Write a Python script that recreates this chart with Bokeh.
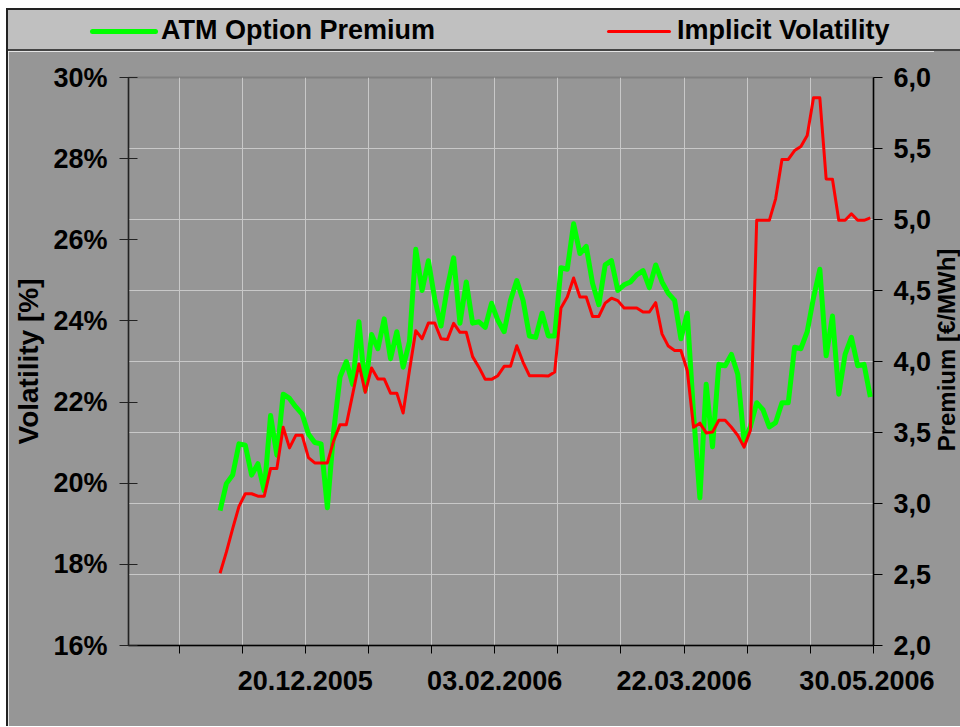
from bokeh.plotting import figure
from bokeh.models import Range1d, LinearAxis, FixedTicker, Grid, Div
from bokeh.layouts import column, row
from bokeh.embed import file_html
from bokeh.resources import INLINE

# ---- data ----
first_idx = 14            # first category that holds data
n_categories = 118        # categories on the x axis

vol = [17.78, 18.30, 18.88, 19.43, 19.74, 19.74, 19.68, 19.68, 20.36, 20.36,
       21.38, 20.87, 21.18, 21.18, 20.63, 20.50, 20.50, 20.50, 21.05, 21.44,
       21.44, 22.19, 22.94, 22.24, 22.84, 22.57, 22.57, 22.22, 22.22, 21.73,
       22.78, 23.76, 23.56, 23.95, 23.95, 23.56, 23.54, 23.94, 23.72, 23.72,
       23.12, 22.86, 22.56, 22.56, 22.65, 22.88, 22.88, 23.39, 22.98, 22.65,
       22.65, 22.65, 22.64, 22.74, 24.32, 24.59, 25.06, 24.59, 24.59, 24.11,
       24.11, 24.44, 24.56, 24.50, 24.32, 24.32, 24.32, 24.22, 24.22, 24.45,
       23.68, 23.38, 23.27, 23.27, 22.78, 21.38, 21.48, 21.24, 21.26, 21.55,
       21.55, 21.38, 21.18, 20.89, 21.30, 26.48, 26.48, 26.48, 27.01, 27.98,
       27.98, 28.20, 28.30, 28.57, 29.50, 29.50, 27.50, 27.49, 26.48, 26.48,
       26.64, 26.48, 26.48, 26.54]

premium = [2.95, 3.14, 3.20, 3.42, 3.41, 3.20, 3.28, 3.09, 3.62, 3.34,
           3.77, 3.74, 3.68, 3.63, 3.49, 3.43, 3.42, 2.97, 3.51, 3.89,
           4.00, 3.84, 4.28, 3.80, 4.19, 4.09, 4.30, 4.02, 4.21, 3.96,
           4.14, 4.79, 4.50, 4.71, 4.44, 4.25, 4.52, 4.73, 4.27, 4.56,
           4.27, 4.28, 4.24, 4.41, 4.29, 4.21, 4.43, 4.57, 4.43, 4.18,
           4.17, 4.34, 4.18, 4.18, 4.66, 4.65, 4.97, 4.76, 4.81, 4.55,
           4.40, 4.68, 4.71, 4.50, 4.54, 4.56, 4.61, 4.64, 4.52, 4.68,
           4.56, 4.48, 4.43, 4.16, 4.34, 3.63, 3.04, 3.84, 3.40, 3.98,
           3.97, 4.05, 3.91, 3.44, 3.54, 3.71, 3.66, 3.54, 3.57, 3.71,
           3.71, 4.10, 4.09, 4.21, 4.45, 4.65, 4.04, 4.32, 3.77, 4.05,
           4.17, 3.97, 3.98, 3.75]

x_ticks = [8, 18, 28, 38, 48, 58, 68, 78, 88, 98, 108, 118]
x_label_pos = [28, 58, 88, 118]
x_labels = ["20.12.2005", "03.02.2006", "22.03.2006", "30.05.2006"]

left_ticks = [16, 18, 20, 22, 24, 26, 28, 30]
left_labels = ["16%", "18%", "20%", "22%", "24%", "26%", "28%", "30%"]
right_ticks = [2.0, 2.5, 3.0, 3.5, 4.0, 4.5, 5.0, 5.5, 6.0]
right_labels = ["2,0", "2,5", "3,0", "3,5", "4,0", "4,5", "5,0", "5,5", "6,0"]

series_names = ["ATM Option Premium", "Implicit Volatility"]
left_title = "Volatility [%]"
right_title = "Premium [€/MWh]"

# ---- derived ----
xs = [i + 0.5 for i in range(first_idx, first_idx + len(vol))]

FONT = "Liberation Sans"
BG = "#969696"
BAND = "#c0c0c0"
GREEN = "#00ff00"
RED = "#ff0000"

W_ALL = 952
W_TITLE = 26
W = W_ALL - W_TITLE
H = 675

# ---- main chart ----
p = figure(width=W, height=H, x_range=Range1d(0, n_categories), y_range=Range1d(16, 30),
           output_backend="svg", toolbar_location=None,
           min_border_left=120, min_border_right=W - 867, min_border_top=26, min_border_bottom=81,
           background_fill_color=BG, border_fill_color=BG,
           outline_line_color="#808080", outline_line_width=2)
p.extra_y_ranges = {"prem": Range1d(2, 6)}

# x axis
xa = p.xaxis[0]
xa.ticker = FixedTicker(ticks=x_ticks)
ov = {t: "" for t in x_ticks}
for t, lab in zip(x_label_pos, x_labels):
    ov[t] = lab
xa.major_label_overrides = ov
xa.major_tick_in = 0
xa.major_tick_out = 8
xa.minor_tick_line_color = None
xa.axis_line_color = "black"
xa.axis_line_width = 1.5
xa.major_tick_line_color = "black"
xa.major_label_standoff = 17
xa.major_label_text_font = FONT
xa.major_label_text_font_style = "bold"
xa.major_label_text_font_size = "27px"
xa.major_label_text_color = "black"

# left axis
ya = p.yaxis[0]
ya.ticker = FixedTicker(ticks=left_ticks)
ya.major_label_overrides = {t: l for t, l in zip(left_ticks, left_labels)}
ya.major_tick_in = 9
ya.major_tick_out = 9
ya.minor_tick_line_color = None
ya.axis_line_color = "#222222"
ya.axis_line_width = 1.5
ya.major_tick_line_color = "#222222"
ya.major_label_standoff = 12
ya.major_label_text_font = FONT
ya.major_label_text_font_style = "bold"
ya.major_label_text_font_size = "27px"
ya.major_label_text_color = "black"
ya.axis_label = left_title
ya.axis_label_standoff = 6
ya.axis_label_text_font = FONT
ya.axis_label_text_font_style = "bold"
ya.axis_label_text_font_size = "28px"
ya.axis_label_text_color = "black"

# right axis
ra = LinearAxis(y_range_name="prem", ticker=FixedTicker(ticks=right_ticks))
ra.major_label_overrides = {t: l for t, l in zip(right_ticks, right_labels)}
ra.major_tick_in = 0
ra.major_tick_out = 9
ra.minor_tick_line_color = None
ra.axis_line_color = "black"
ra.axis_line_width = 1.5
ra.major_tick_line_color = "black"
ra.major_label_standoff = 11
ra.major_label_text_font = FONT
ra.major_label_text_font_style = "bold"
ra.major_label_text_font_size = "27px"
ra.major_label_text_color = "black"
p.add_layout(ra, "right")

# grids
p.xgrid.ticker = FixedTicker(ticks=x_ticks)
p.xgrid.grid_line_color = "#c8c8c8"
p.xgrid.grid_line_width = 1
p.ygrid.visible = False
p.add_layout(Grid(dimension=1, ticker=FixedTicker(ticks=right_ticks), y_range_name="prem",
                  grid_line_color="#c8c8c8", grid_line_width=1))

# lines
p.line(xs, premium, y_range_name="prem", line_color=GREEN, line_width=5, line_join="round")
p.line(xs, vol, line_color=RED, line_width=3, line_join="round")

# ---- right axis title (reads bottom to top, like the left one) ----
title_html = (
    f'<div style="position:relative;width:{W_TITLE}px;height:{H}px;background:{BG};">'
    f'<div style="position:absolute;left:3px;top:299px;writing-mode:vertical-rl;'
    f'transform:translateY(-50%) rotate(180deg);white-space:nowrap;'
    f'font-family:\'{FONT}\';font-weight:bold;font-size:24px;line-height:20px;'
    f'color:black;">{right_title}</div></div>'
)
rtitle = Div(text=title_html, width=W_TITLE, height=H, margin=0)

# ---- legend band (top strip) ----
def item(x_line, w_line, thick, color, x_text, label):
    top = 21 - thick / 2
    return (f'<span style="position:absolute;left:{x_line}px;top:{top}px;width:{w_line}px;'
            f'height:{thick}px;background:{color};border-radius:{thick/2}px"></span>'
            f'<span style="position:absolute;left:{x_text}px;top:5px;line-height:30px;'
            f'white-space:nowrap">{label}</span>')

band_html = (
    f'<div style="position:relative;box-sizing:border-box;width:{W_ALL}px;height:43px;'
    f'background:{BAND};border-top:2px solid #222;'
    f'border-bottom:2px solid #444;font-family:\'{FONT}\';font-weight:bold;'
    f'font-size:27px;color:black;">'
    + item(82, 68, 5, GREEN, 153, series_names[0])
    + item(599, 64, 3, RED, 669, series_names[1])
    + '</div>'
)
band = Div(text=band_html, width=W_ALL, height=43, margin=0)

layout = column(band, row(p, rtitle, spacing=0), spacing=0, margin=(8, 0, 0, 6),
                styles={"border-left": "2px solid #222"})

open("out.html", "w").write(file_html(layout, INLINE))
